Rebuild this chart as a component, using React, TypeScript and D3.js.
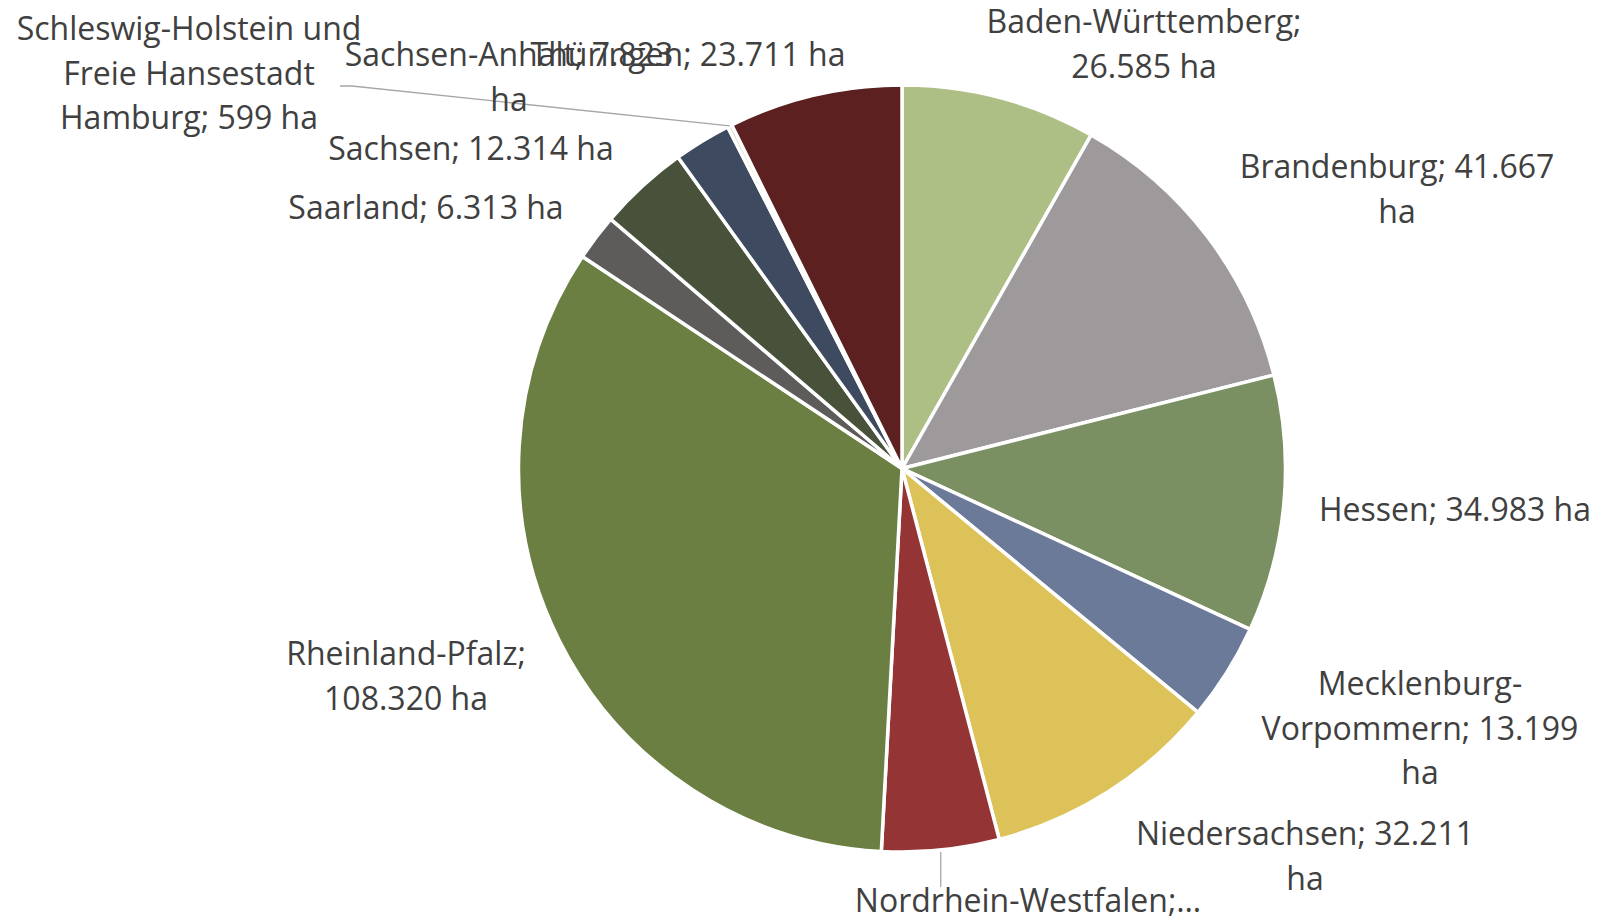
import { useEffect, useRef } from "react";
import * as d3 from "d3";

// Fläche je Bundesland (ha)
const states = [
  "Baden-Württemberg",
  "Brandenburg",
  "Hessen",
  "Mecklenburg-Vorpommern",
  "Niedersachsen",
  "Nordrhein-Westfalen",
  "Rheinland-Pfalz",
  "Saarland",
  "Sachsen",
  "Sachsen-Anhalt",
  "Schleswig-Holstein und Freie Hansestadt Hamburg",
  "Thüringen",
];
const areas = [26585, 41667, 34983, 13199, 32211, 16000, 108320, 6313, 12314, 7823, 599, 23711];
const colors = [
  "#adbf85",
  "#9e9a9b",
  "#7a8f62",
  "#6c7a99",
  "#ddc25a",
  "#953434",
  "#6c7f42",
  "#5d5c5a",
  "#48523a",
  "#3e4a5f",
  "#dccaa2",
  "#5c2020",
];

// label text lines as Excel wrapped them
const labelLines = [
  ["Baden-Württemberg;", "26.585 ha"],
  ["Brandenburg; 41.667", "ha"],
  ["Hessen; 34.983 ha"],
  ["Mecklenburg-", "Vorpommern; 13.199", "ha"],
  ["Niedersachsen; 32.211", "ha"],
  ["Nordrhein-Westfalen;…"],
  ["Rheinland-Pfalz;", "108.320 ha"],
  ["Saarland; 6.313 ha"],
  ["Sachsen; 12.314 ha"],
  ["Sachsen-Anhalt; 7.823", "ha"],
  ["Schleswig-Holstein und", "Freie Hansestadt", "Hamburg; 599 ha"],
  ["Thüringen; 23.711 ha"],
];

// label anchor (center x, first baseline)
const labelPos = [
  [1144, 33],
  [1397, 178],
  [1455, 521],
  [1420, 695],
  [1305, 845],
  [1028, 912],
  [406, 665],
  [426, 219],
  [471, 160],
  [509, 66],
  [189, 40],
  [688, 66],
];

export default function App() {
  const ref = useRef<SVGSVGElement>(null);

  useEffect(() => {
    const width = 1599;
    const height = 919;
    const cx = 902;
    const cy = 468.5;
    const radius = 383.5;
    const lineH = 44.5;

    const svg = d3.select(ref.current);
    svg.selectAll("*").remove();
    svg.attr("width", width).attr("height", height);

    const pie = d3
      .pie<number>()
      .sort(null)
      .value((d) => d);
    const arcs = pie(areas);
    const arc = d3.arc<d3.PieArcDatum<number>>().innerRadius(0).outerRadius(radius);

    const g = svg.append("g").attr("transform", `translate(${cx},${cy})`);
    g.selectAll("path")
      .data(arcs)
      .enter()
      .append("path")
      .attr("d", arc)
      .attr("fill", (d, i) => colors[i])
      .attr("stroke", "#ffffff")
      .attr("stroke-width", 3.5)
      .attr("stroke-linejoin", "round");

    const outer = (a: d3.PieArcDatum<number>) => {
      const m = (a.startAngle + a.endAngle) / 2;
      return [cx + radius * Math.sin(m), cy - radius * Math.cos(m)];
    };

    // leader lines
    const nrw = outer(arcs[5]);
    svg
      .append("path")
      .attr("d", `M${nrw[0]},${nrw[1] + 2}L${nrw[0]},887`)
      .attr("stroke", "#a6a6a6")
      .attr("stroke-width", 1.3)
      .attr("fill", "none");
    const sh = outer(arcs[10]);
    svg
      .append("path")
      .attr("d", `M340,86L352,86L${sh[0]},${sh[1]}`)
      .attr("stroke", "#a6a6a6")
      .attr("stroke-width", 1.3)
      .attr("fill", "none");

    // labels
    const labels = svg
      .append("g")
      .style("font-family", "'Open Sans', 'Noto Sans', sans-serif")
      .style("font-size", "32px")
      .attr("fill", "#404040")
      .attr("text-anchor", "middle");
    labelLines.forEach((lines, i) => {
      const t = labels
        .append("text")
        .attr("x", labelPos[i][0])
        .attr("y", labelPos[i][1]);
      lines.forEach((ln, j) => {
        t.append("tspan")
          .attr("x", labelPos[i][0])
          .attr("y", labelPos[i][1] + j * lineH)
          .text(ln);
      });
    });
  }, []);

  return (
    <div style={{ position: "absolute", left: 0, top: 0, background: "#fff" }}>
      <svg ref={ref}></svg>
    </div>
  );
}
